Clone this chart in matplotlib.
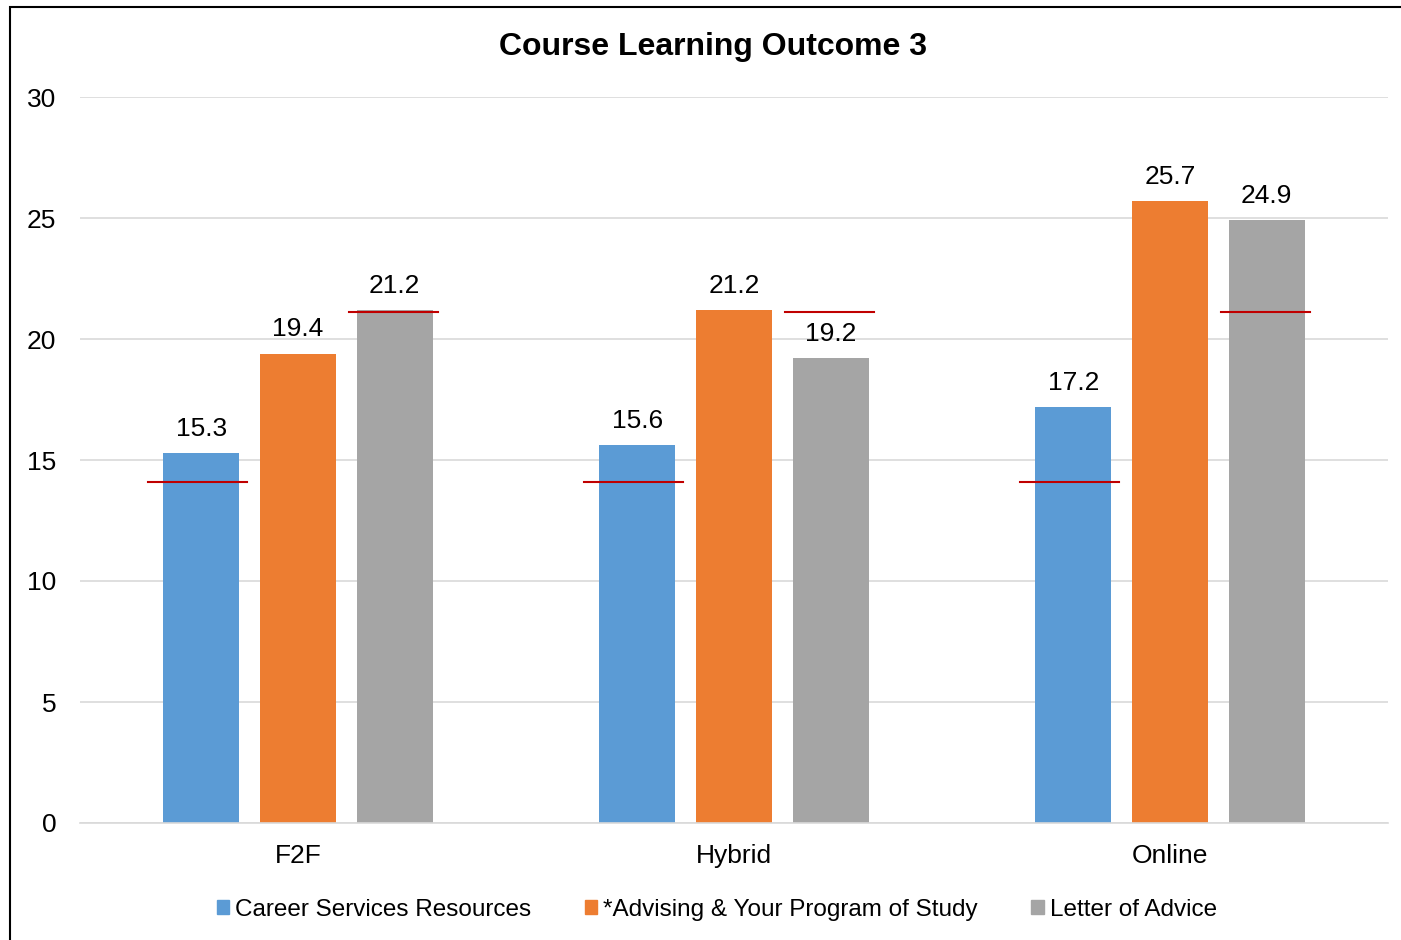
import numpy as np
import matplotlib.pyplot as plt
from matplotlib.patches import Patch, Rectangle

plt.rcParams['font.family'] = ['Liberation Sans', 'DejaVu Sans']

# ── Data ──
modes = ["F2F", "Hybrid", "Online"]
series = ["Career Services Resources", "*Advising & Your Program of Study", "Letter of Advice"]
career = [15.3, 15.6, 17.2]
advising = [19.4, 21.2, 25.7]
letter = [21.2, 19.2, 24.9]
# red benchmark marks (blue and gray bars only)
bench_career = [14.1, 14.1, 14.1]
bench_letter = [21.1, 21.1, 21.1]

colors = ["#5b9bd5", "#ed7d31", "#a5a5a5"]
values = [career, advising, letter]

fig = plt.figure(figsize=(14.01, 9.40), dpi=100)
ax = fig.add_axes([80 / 1401, 1 - 823 / 940, 1308 / 1401, 726 / 940])

x = np.arange(len(modes))
step = 0.222
width = 0.174
for i, (vals, col) in enumerate(zip(values, colors)):
    pos = x + (i - 1) * step
    ax.bar(pos, vals, width, color=col, zorder=2)
    for xp, v in zip(pos, vals):
        ax.text(xp, v + 0.5, f"{v:.1f}", ha="center", va="bottom", fontsize=19, color="black")

# benchmark lines
for xp, v in zip(x - step - 0.008, bench_career):
    ax.plot([xp - 0.1135, xp + 0.1135], [v, v], color="#c00000", lw=1.5, zorder=3)
for xp, v in zip(x + step - 0.002, bench_letter):
    ax.plot([xp - 0.102, xp + 0.102], [v, v], color="#c00000", lw=1.5, zorder=3)

ax.set_xlim(-0.5, 2.5)
ax.set_ylim(0, 30)
ax.set_yticks(range(0, 31, 5))
ax.set_xticks(x)
ax.set_xticklabels(modes)
ax.tick_params(axis="both", length=0, labelsize=19)
ax.tick_params(axis="y", pad=17)
ax.tick_params(axis="x", pad=15)
ax.grid(axis="y", color="#d9d9d9", lw=1.2, zorder=0)
for s in ["top", "right", "left"]:
    ax.spines[s].set_visible(False)
ax.spines["bottom"].set_color("#d9d9d9")
ax.spines["bottom"].set_linewidth(1.2)

fig.text(713 / 1401, 1 - 47 / 940, "Course Learning Outcome 3", ha="center", va="center",
         fontsize=23, fontweight="bold")

handles = [Patch(color=c) for c in colors]
fig.legend(handles, series, loc="center", bbox_to_anchor=(717 / 1401, 1 - 910 / 940), ncol=3,
           frameon=False, fontsize=17.5, handlelength=0.5, handleheight=0.5, handletextpad=0.25,
           columnspacing=2.2)

# outer chart border
fig.patches.append(Rectangle((10 / 1401, -0.01), 1.0, 1 - 7 / 940 + 0.01, transform=fig.transFigure,
                             fill=False, edgecolor="black", lw=1.5))

fig.savefig("out.png", dpi=100)
